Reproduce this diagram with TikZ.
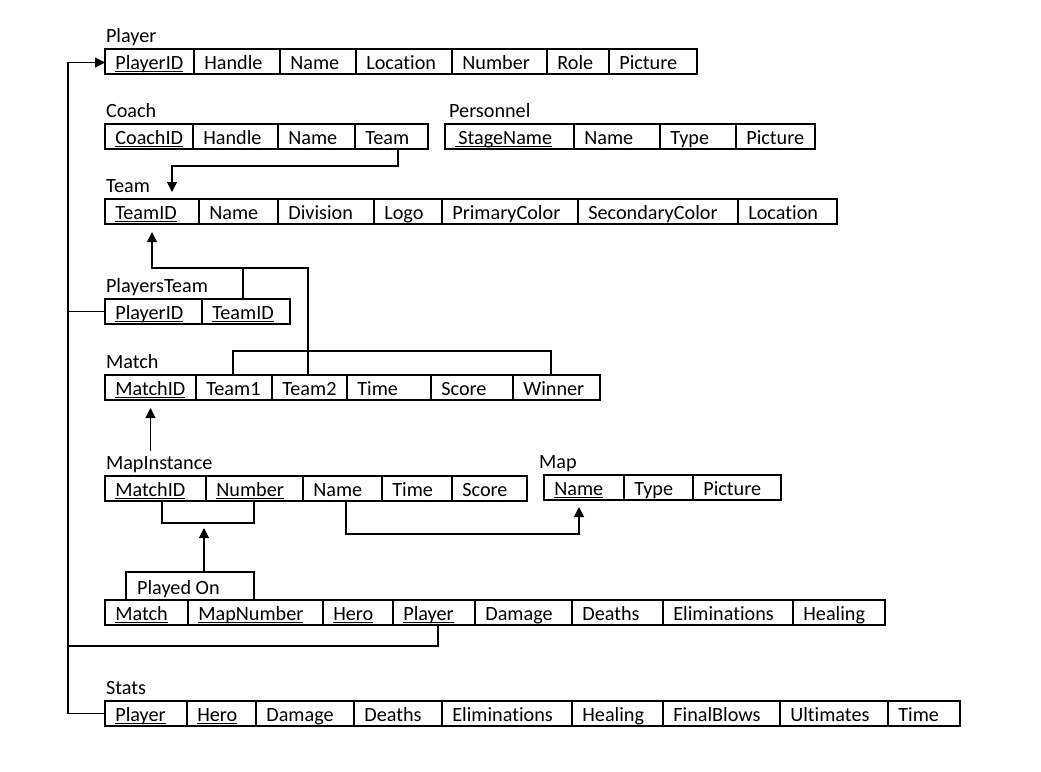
\documentclass[tikz,border=0pt]{standalone}
\usepackage{fontspec}
\setmainfont{Carlito}[Ligatures={NoCommon,NoContextual}]
\usetikzlibrary{arrows.meta,calc}

% key attribute: text with a rule underneath, crossing the descenders
\newcommand\keyattr[1]{\setbox0=\hbox{#1}\rlap{\rule[-3pt]{\wd0}{1.1pt}}\box0}

% one relation row: #1 name prefix, #2 top edge, #3 list of left/right/text
\newcommand\relrow[3]{%
  \foreach \xa/\xb/\txt [count=\i] in {#3} {
    \pgfmathsetlengthmacro\cw{(\xb-\xa)*1pt}
    \node[cellbox, minimum width=\cw] (#1\i) at (\xa,#2) {};
    \node[celltext] (#1t\i) at ([xshift=9.8pt,yshift=-20pt]#1\i.north west) {\txt};
  }}

\begin{document}
\begin{tikzpicture}[x=1pt,y=-1pt,
  font=\fontsize{20.2}{24}\selectfont,
  line width=1.1pt,
  cellbox/.style={draw, rectangle, anchor=north west, minimum height=25pt, inner sep=0pt, outer sep=0pt},
  celltext/.style={anchor=base west, inner sep=0pt},
  lbl/.style={anchor=base west, inner sep=0pt},
  arr/.style={-{Triangle[length=10pt,width=10pt]}}]

\useasboundingbox[fill=white] (0,0) rectangle (1041,771);

% relation labels
\node[lbl] (playerlbl) at (105.5,42.8) {Player};
\node[lbl] (coachlbl) at (105.5,117.5) {Coach};
\node[lbl] (personnellbl) at (448.6,117.5) {Personnel};
\node[lbl] (teamlbl) at (105.5,192.5) {Team};
\node[lbl] (pteamlbl) at (105.5,292.5) {PlayersTeam};
\node[lbl] (matchlbl) at (105.5,368.5) {Match};
\node[lbl] (milbl) at (105.5,469.5) {MapInstance};
\node[lbl] (maplbl) at (538.5,468.5) {Map};
\node[lbl] (statslbl) at (105.5,694.5) {Stats};

% relations
\relrow{player}{49}{105/194/\keyattr{PlayerID}, 194/280/Handle, 280/356/Name, 356/452/Location, 452/547/Number, 547/609/Role, 609/697/Picture}
\relrow{coach}{124}{105/193/\keyattr{CoachID}, 193/278/Handle, 278/355/Name, 355/428/Team}
\relrow{pers}{124}{445/574/\keyattr{\hspace{3pt}StageName}, 574/660/Name, 660/736/Type, 736/815/Picture}
\relrow{team}{199}{105/199/\keyattr{TeamID}, 199/278/Name, 278/374/Division, 374/442/Logo, 442/578/PrimaryColor, 578/738/SecondaryColor, 738/837/Location}
\relrow{pteam}{299}{105/202/\keyattr{PlayerID}, 202/290/\keyattr{TeamID}}
\relrow{match}{375}{105/196/\keyattr{MatchID}, 196/272/Team1, 272/347/Team2, 347/431/Time, 431/513/Score, 513/600/Winner}
\relrow{mi}{476}{105/206/\keyattr{MatchID}, 206/303/\keyattr{Number}, 303/382/Name, 382/452/Time, 452/527/Score}
\relrow{map}{475}{544/624/\keyattr{Name}, 624/693/Type, 693/781/Picture}
\relrow{por}{600}{105/188/\keyattr{Match}, 188/323/\keyattr{MapNumber}, 323/393/\keyattr{Hero}, 393/475/\keyattr{Player}, 475/572/Damage, 572/663/Deaths, 663/793/Eliminations, 793/885/Healing}
\relrow{stats}{701}{105/187/\keyattr{Player}, 187/256/\keyattr{Hero}, 256/354/Damage, 354/442/Deaths, 442/572/Eliminations, 572/663/Healing, 663/780/FinalBlows, 780/888/Ultimates, 888/960/Time}

% tab naming the Played On relation
\node[cellbox, minimum width=128pt, minimum height=28pt] (playedon) at (126,572) {};
\node[lbl] (playedontxt) at (136.6,594) {Played On};

% Coach.Team -> Team
\draw[arr] ([xshift=43pt]coach4.south west) -- ++(0,17) -| ([xshift=67pt,yshift=7pt]team1.north west);

% PlayersTeam.TeamID, Match.Team2 -> Team.TeamID
\draw[arr] ([xshift=36pt]match3.north west) |- ([yshift=-44pt]team1.south) -- ([yshift=-8pt]team1.south);
\draw ([xshift=41pt]pteam2.north west) -- ++(0,-31);

% Match.Team1 / Match.Winner bracket
\draw ([xshift=37pt]match2.north west) -- ++(0,-24) -| ([xshift=38pt]match6.north west);

% MapInstance -> Match
\draw[arr] ([yshift=-51pt]match1.south) -- ([yshift=-8pt]match1.south);

% MapInstance key bracket and Played On -> MapInstance
\draw ([xshift=57pt]mi1.south west) -- ++(0,22) -| ([xshift=48pt]mi2.south west);
\draw[arr] ([xshift=78pt]playedon.north west) -- ++(0,-44);

% MapInstance.Name -> Map.Name
\draw[arr] ([xshift=43pt]mi3.south west) |- ([xshift=35pt,yshift=-34pt]map1.south west) -- ([xshift=35pt,yshift=-7pt]map1.south west);

% player references along the left spine
\draw[arr] (stats1.west) -- ++(-37,0) |- ([yshift=-1pt]player1.west);
\draw (pteam1.west) -- ++(-37,0);
\draw ([xshift=45pt]por4.south west) -- ++(0,21) -- ++(-370,0);

\end{tikzpicture}
\end{document}
